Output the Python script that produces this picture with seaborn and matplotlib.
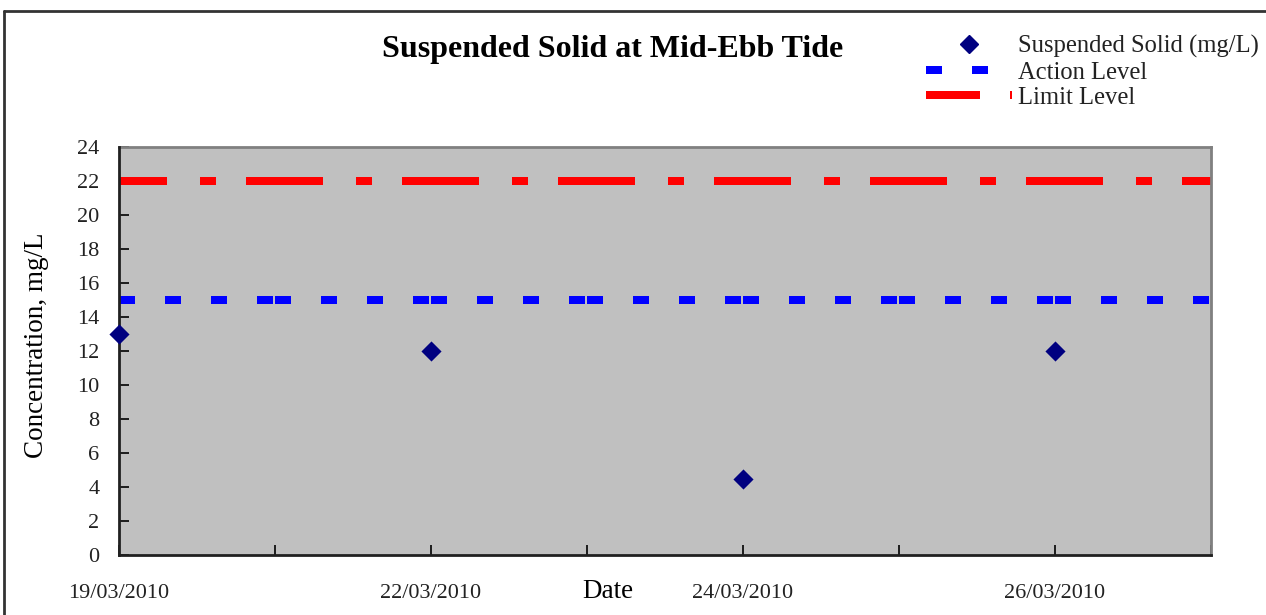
import numpy as np
import pandas as pd
import matplotlib
matplotlib.use("Agg")
import matplotlib.pyplot as plt
import seaborn as sns
from matplotlib.lines import Line2D

# ---- data ----
categories = ["19/03/2010", "20/03/2010", "22/03/2010", "23/03/2010",
              "24/03/2010", "25/03/2010", "26/03/2010", "27/03/2010"]
shown_labels = ["19/03/2010", "", "22/03/2010", "", "24/03/2010", "", "26/03/2010", ""]
ss_values = [13, np.nan, 12, np.nan, 4.5, np.nan, 12, np.nan]
action_level = [15] * 8
limit_level = [22] * 8

sns.set_theme(style="white")
plt.rcParams['font.family'] = ['Liberation Serif', 'DejaVu Serif']
plt.rcParams['lines.scale_dashes'] = False

px = 0.72  # pixels -> points at dpi 100
fig = plt.figure(figsize=(12.66, 6.15), dpi=100)
ax = fig.add_axes([119/1266, 1 - 555/615, (1211-119)/1266, (555-147)/615])
ax.set_facecolor("#C0C0C0")

xpos = np.arange(len(categories))
df = pd.DataFrame({"x": xpos, "ss": ss_values, "action": action_level, "limit": limit_level})

# Level lines drawn segment by segment (dash pattern restarts per category, like the original)
for i in range(len(xpos) - 1):
    seg = df.iloc[i:i+2]
    ax.plot(seg["x"], seg["limit"], color="#FF0000", lw=8*px, solid_capstyle="butt",
            dash_capstyle="butt", dashes=(48*px, 33*px, 16*px, 30*px, 29*px, 0.001), zorder=2)
    ax.plot(seg["x"], seg["action"], color="#0000FF", lw=8*px, dash_capstyle="butt",
            dashes=(16*px, 30*px), zorder=2)

sns.scatterplot(data=df.dropna(), x="x", y="ss", marker="D", s=105, color="#000080",
                edgecolor="#000080", linewidth=0, ax=ax, zorder=5, legend=False, clip_on=False)

ax.set_xlim(0, 7)
ax.set_ylim(0, 24)
ax.set_yticks(np.arange(0, 25, 2))
ax.set_xticks(xpos)
ax.set_xticklabels(shown_labels)
ax.tick_params(axis="both", direction="in", length=7, width=1.2, color="black",
               labelsize=16, labelcolor="#222222")
ax.tick_params(axis="y", pad=14, left=True)
ax.tick_params(axis="x", pad=21, bottom=True)

for side in ["top", "right"]:
    ax.spines[side].set_color("#808080")
    ax.spines[side].set_linewidth(2)
for side in ["left", "bottom"]:
    ax.spines[side].set_color("#202020")
    ax.spines[side].set_linewidth(2)
    ax.spines[side].set_zorder(4)

ax.set_xlabel("Date", fontsize=19.5, color="black")
ax.xaxis.set_label_coords((608-119)/1092, (555-591)/408)
ax.xaxis.label.set_va("center")
ax.set_ylabel("Concentration, mg/L", fontsize=19.5, color="black")
ax.yaxis.set_label_coords((37-119)/1092, (555-345)/408)
ax.yaxis.label.set_va("center")

fig.text(613/1266, 1 - 50/615, "Suspended Solid at Mid-Ebb Tide", ha="center", va="center",
         fontsize=23, fontweight="bold", color="black")

handles = [
    Line2D([], [], marker="D", color="#000080", ls="none", markersize=9),
    Line2D([], [], color="#0000FF", lw=8*px, dashes=(16*px, 30*px)),
    Line2D([], [], color="#FF0000", lw=8*px, dashes=(54*px, 30*px)),
]
labels = ["Suspended Solid (mg/L)", "Action Level", "Limit Level"]
fig.legend(handles, labels, loc="upper left", bbox_to_anchor=(914/1266, 1 - 23/615),
           frameon=False, fontsize=17.7, handlelength=3.5, handletextpad=0.25,
           labelspacing=0.12, borderpad=0, labelcolor="#222222")

# outer chart border
fig.add_artist(Line2D([4/1266, 4/1266], [0, 1 - 10.5/615], color="#333333", lw=2, transform=fig.transFigure))
fig.add_artist(Line2D([4/1266, 1], [1 - 10.5/615, 1 - 10.5/615], color="#333333", lw=2, transform=fig.transFigure))

fig.savefig("out.png", dpi=100)
